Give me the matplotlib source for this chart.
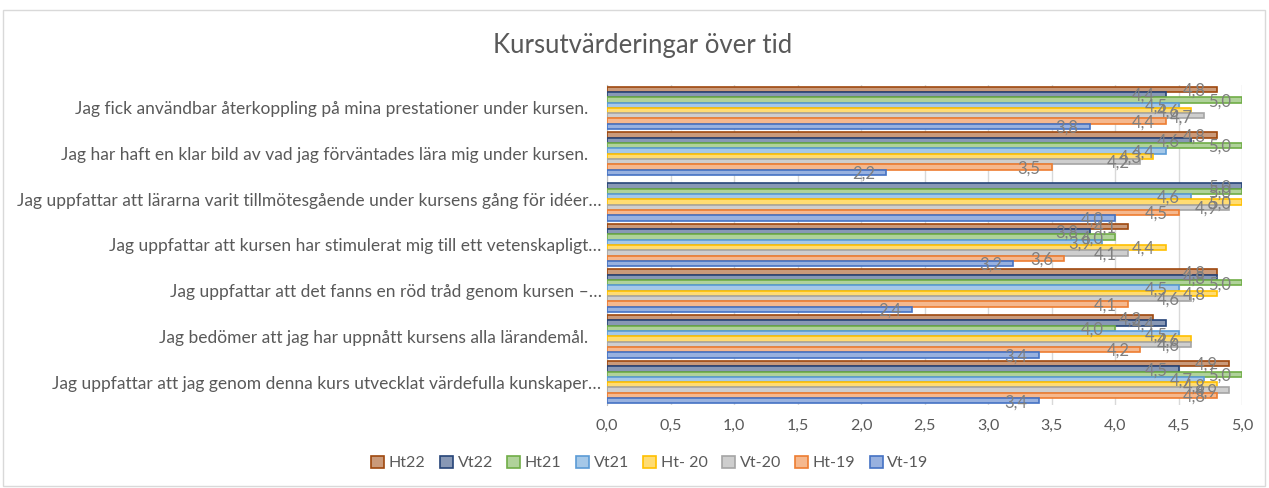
import numpy as np
import matplotlib
matplotlib.use("Agg")
import matplotlib.pyplot as plt
from matplotlib.ticker import FuncFormatter
from matplotlib.patches import Rectangle

plt.rcParams['font.family'] = ['Lato', 'DejaVu Sans']

categories = [
    "Jag fick användbar återkoppling på mina prestationer under kursen.",
    "Jag har haft en klar bild av vad jag förväntades lära mig under kursen.",
    "Jag uppfattar att lärarna varit tillmötesgående under kursens gång för idéer…",
    "Jag uppfattar att kursen har stimulerat mig till ett vetenskapligt…",
    "Jag uppfattar att det fanns en röd tråd genom kursen –…",
    "Jag bedömer att jag har uppnått kursens alla lärandemål.",
    "Jag uppfattar att jag genom denna kurs utvecklat värdefulla kunskaper…",
]
series_names = ["Ht22", "Vt22", "Ht21", "Vt21", "Ht- 20", "Vt-20", "Ht-19", "Vt-19"]
ht22 = [4.8, 4.8, np.nan, 4.1, 4.8, 4.3, 4.9]
vt22 = [4.4, 4.6, 5.0, 3.8, 4.8, 4.4, 4.5]
ht21 = [5.0, 5.0, 5.0, 4.0, 5.0, 4.0, 5.0]
vt21 = [4.5, 4.4, 4.6, 3.9, 4.5, 4.5, 4.7]
ht20 = [4.6, 4.3, 5.0, 4.4, 4.8, 4.6, 4.8]
vt20 = [4.7, 4.2, 4.9, 4.1, 4.6, 4.6, 4.9]
ht19 = [4.4, 3.5, 4.5, 3.6, 4.1, 4.2, 4.8]
vt19 = [3.8, 2.2, 4.0, 3.2, 2.4, 3.4, 3.4]
xticks = [0.0, 0.5, 1.0, 1.5, 2.0, 2.5, 3.0, 3.5, 4.0, 4.5, 5.0]

series = [ht22, vt22, ht21, vt21, ht20, vt20, ht19, vt19]
colors = ["#9E480E", "#264478", "#70AD47", "#5B9BD5", "#FFC000", "#A5A5A5", "#ED7D31", "#4472C4"]

def lighten(c, f):
    rgb = np.array(matplotlib.colors.to_rgb(c))
    return tuple(rgb + (1 - rgb) * f)

fig = plt.figure(figsize=(12.69, 4.88), dpi=100)
ax = fig.add_axes([607/1269, 1 - 405/488, (1242-607)/1269, (405-85)/488])

n = len(series)
h = 0.93 / n
y = np.arange(len(categories))
text_grey = "#595959"
for i, (vals, c, name) in enumerate(zip(series, colors, series_names)):
    pos = y + (i - (n - 1) / 2) * h
    v = np.array(vals, dtype=float)
    ax.barh(pos, v, height=h, color=lighten(c, 0.45), edgecolor=c, linewidth=1.2,
            label=name, zorder=3)
    for p, val in zip(pos, v):
        if np.isnan(val):
            continue
        ax.annotate(f"{val:.1f}".replace(".", ","), (val, p), xytext=(-8, -1),
                    textcoords="offset points", ha="right", va="center",
                    fontsize=12, color="#7F7F7F", zorder=5)

ax.set_ylim(len(categories) - 0.5, -0.5)
ax.set_xlim(0, 5.0)
ax.set_xticks(xticks)
ax.xaxis.set_major_formatter(FuncFormatter(lambda v, p: f"{v:.1f}".replace(".", ",")))
ax.set_yticks(y)
shown = [c if c.endswith("…") else c + "   " for c in categories]
ax.set_yticklabels(shown, fontsize=12.5, color=text_grey)
ax.tick_params(axis="x", colors=text_grey, labelsize=11.5, length=0, pad=10)
ax.tick_params(axis="y", length=0, pad=4)
ax.grid(axis="x", color="#D9D9D9", linewidth=1, zorder=0)
for s in ["top", "right", "bottom"]:
    ax.spines[s].set_visible(False)
ax.spines["left"].set_color("#BFBFBF")

fig.text(643/1269, 1 - 45/488, "Kursutvärderingar över tid", ha="center", va="center",
         fontsize=18.5, color=text_grey)

leg = fig.legend(loc="center", bbox_to_anchor=(650/1269, 1 - 463/488), ncol=8,
                 frameon=False, fontsize=11.5, handlelength=0.8, handleheight=0.8,
                 handletextpad=0.3, columnspacing=0.9)
for t in leg.get_texts():
    t.set_color(text_grey)

fig.patches.append(Rectangle((3/1269, 2/488), 1262/1269, 476/488, transform=fig.transFigure,
                             fill=False, edgecolor="#D9D9D9", linewidth=1))

fig.savefig("out.png", dpi=100)
